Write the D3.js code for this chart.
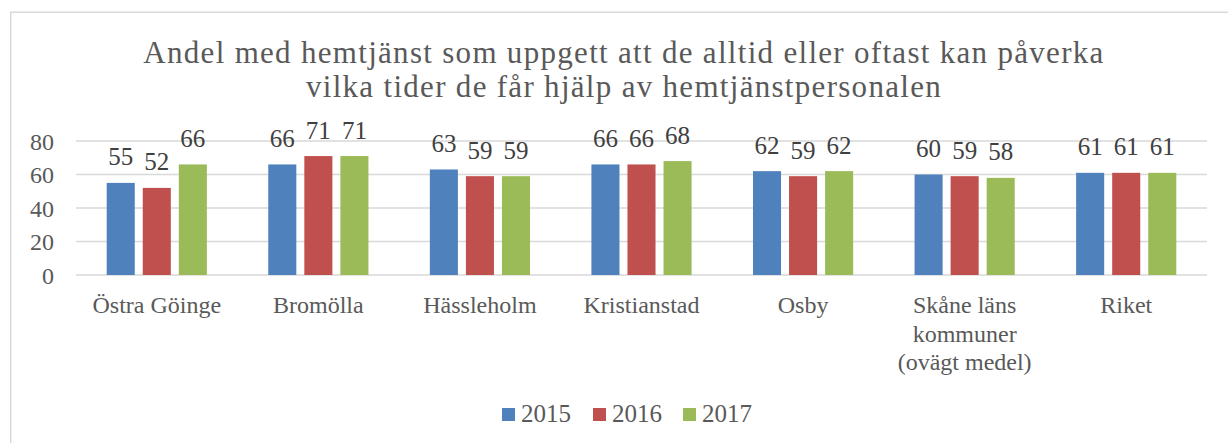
<!DOCTYPE html>
<html>
<head>
<meta charset="utf-8">
<script src="https://cdn.jsdelivr.net/npm/d3@7"></script>
<style>
  html, body { margin: 0; padding: 0; background: #ffffff; }
  svg { display: block; }
</style>
</head>
<body>
<svg id="chart" width="1228" height="443"></svg>
<script>
// ---- Data ----
const categories = ["Östra Göinge", "Bromölla", "Hässleholm", "Kristianstad", "Osby", "Skåne läns kommuner (ovägt medel)", "Riket"];
const seriesNames = ["2015", "2016", "2017"];
const values2015 = [55, 66, 63, 66, 62, 60, 61];
const values2016 = [52, 71, 59, 66, 59, 59, 61];
const values2017 = [66, 71, 59, 68, 62, 58, 61];
const yTicks = [0, 20, 40, 60, 80];
const titleLines = ["Andel med hemtjänst som uppgett att de alltid eller oftast kan påverka", "vilka tider de får hjälp av hemtjänstpersonalen"];
const colors = ["#4F81BD", "#C0504D", "#9BBB59"];

const seriesValues = [values2015, values2016, values2017];

const svg = d3.select("#chart");
const FONT = "'Liberation Serif', 'Times New Roman', serif";

// Chart frame
svg.append("rect")
  .attr("x", 10.75).attr("y", 12.25)
  .attr("width", 1400).attr("height", 600)
  .attr("fill", "#ffffff")
  .attr("stroke", "#d9d9d9").attr("stroke-width", 1.5);

// Title
svg.append("text")
  .attr("x", 624).attr("y", 63)
  .attr("text-anchor", "middle")
  .attr("font-family", FONT).attr("font-size", 31)
  .attr("letter-spacing", 1.3)
  .attr("fill", "#595959")
  .selectAll("tspan").data(titleLines).join("tspan")
  .attr("x", 624)
  .attr("dy", (d, i) => i === 0 ? 0 : 34)
  .text(d => d);

// Scales
const plotLeft = 76, plotRight = 1207, plotTop = 141, plotBottom = 275;
const x = d3.scaleBand().domain(categories).range([plotLeft, plotRight]).padding(0);
const y = d3.scaleLinear().domain([0, 80]).range([plotBottom, plotTop]);

// Gridlines
svg.append("g").selectAll("line").data(yTicks).join("line")
  .attr("x1", plotLeft).attr("x2", plotRight)
  .attr("y1", d => y(d)).attr("y2", d => y(d))
  .attr("stroke", "#d9d9d9").attr("stroke-width", 1.5);

// Y axis labels
const yAxis = d3.axisLeft(y).tickValues(yTicks).tickSize(0).tickPadding(0);
const yg = svg.append("g").attr("transform", `translate(${54},0)`).call(yAxis);
yg.select(".domain").remove();
yg.selectAll("text")
  .attr("font-family", FONT).attr("font-size", 24)
  .attr("fill", "#595959")
  .attr("dy", "0.34em");

// Bars
const groupW = x.bandwidth() * 0.62;
const xs = d3.scaleBand().domain(seriesNames).range([-groupW / 2, groupW / 2]).paddingInner(0.222).paddingOuter(0);

const groups = svg.append("g").selectAll("g").data(categories).join("g")
  .attr("transform", d => `translate(${x(d) + x.bandwidth() / 2},0)`);

groups.each(function(cat, ci) {
  const g = d3.select(this);
  const rows = seriesNames.map((s, si) => ({ s, si, v: seriesValues[si][ci] }));
  g.selectAll("rect").data(rows).join("rect")
    .attr("x", d => xs(d.s))
    .attr("y", d => y(d.v))
    .attr("width", xs.bandwidth())
    .attr("height", d => y(0) - y(d.v))
    .attr("fill", d => colors[d.si]);
  g.selectAll("text.val").data(rows).join("text")
    .attr("class", "val")
    .attr("x", d => xs(d.s) + xs.bandwidth() / 2)
    .attr("y", d => y(d.v) - 17.5)
    .attr("text-anchor", "middle")
    .attr("font-family", FONT).attr("font-size", 25)
    .attr("fill", "#404040")
    .text(d => d.v);
});

// Category labels with wrapping
function wrapLines(text, maxW, ctxFont) {
  const canvas = document.createElement("canvas");
  const ctx = canvas.getContext("2d");
  ctx.font = ctxFont;
  const words = text.split(" ");
  const lines = [];
  let cur = "";
  words.forEach(w => {
    const test = cur ? cur + " " + w : w;
    if (ctx.measureText(test).width > maxW && cur) { lines.push(cur); cur = w; }
    else cur = test;
  });
  if (cur) lines.push(cur);
  return lines;
}
const catG = svg.append("g");
categories.forEach(cat => {
  const lines = wrapLines(cat, 150, "24px 'Liberation Serif'");
  const cx = x(cat) + x.bandwidth() / 2;
  catG.append("text")
    .attr("text-anchor", "middle")
    .attr("font-family", FONT).attr("font-size", 24)
    .attr("fill", "#595959")
    .selectAll("tspan").data(lines).join("tspan")
    .attr("x", cx)
    .attr("y", (d, i) => 313 + i * 28.5)
    .text(d => d);
});

// Legend
const legendX = [502, 593, 683];
const lg = svg.append("g").selectAll("g").data(seriesNames).join("g")
  .attr("transform", (d, i) => `translate(${legendX[i]},0)`);
lg.append("rect").attr("x", 0).attr("y", 408).attr("width", 13).attr("height", 13)
  .attr("fill", (d, i) => colors[i]);
lg.append("text").attr("x", 19).attr("y", 422)
  .attr("font-family", FONT).attr("font-size", 25)
  .attr("fill", "#595959")
  .text(d => d);
</script>
</body>
</html>
